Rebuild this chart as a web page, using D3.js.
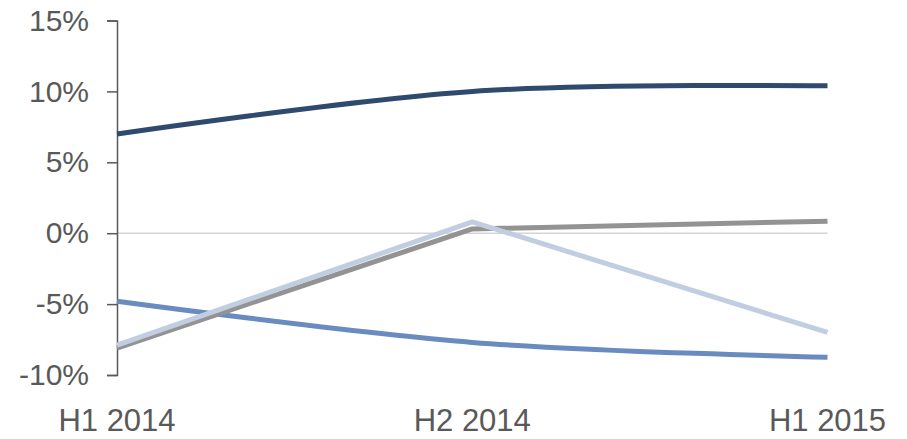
<!DOCTYPE html>
<html><head><meta charset="utf-8">
<script src="https://cdn.jsdelivr.net/npm/d3@7"></script>
<style>body{margin:0;background:#fff}svg{display:block}</style>
</head><body>
<svg id="c" width="907" height="439"></svg>
<script>
const categories = ["H1 2014", "H2 2014", "H1 2015"];
const yTicks = [-10, -5, 0, 5, 10, 15];
const seriesNavy = [7.0, 10.0, 10.4];
const seriesGray = [-8.1, 0.3, 0.85];
const seriesLight = [-7.9, 0.8, -7.0];
const seriesBlue = [-4.8, -7.7, -8.75];

const svg = d3.select("#c");
const x = d3.scalePoint().domain(categories).range([117, 827.5]);
const y = d3.scaleLinear().domain([-10, 15]).range([375, 20.5]);
const font = "'Liberation Sans', Arial, sans-serif";

// zero line
svg.append("line").attr("x1", x(categories[0])).attr("x2", x(categories[2]))
  .attr("y1", y(0)).attr("y2", y(0)).attr("stroke", "#d4d4d4").attr("stroke-width", 1.5);

// y axis
const yAxis = svg.append("g").attr("transform", `translate(${x(categories[0])},0)`)
  .call(d3.axisLeft(y).tickValues(yTicks).tickSize(10).tickPadding(18).tickFormat(d => d + "%"));
yAxis.select(".domain").attr("stroke", "#595959").attr("stroke-width", 1.5);
yAxis.selectAll(".tick line").attr("stroke", "#595959").attr("stroke-width", 1.5);
yAxis.selectAll("text").attr("fill", "#595959").style("font-family", font).style("font-size", "30px");

// x labels
svg.append("g").selectAll("text").data(categories).join("text")
  .attr("x", d => x(d)).attr("y", 431).attr("text-anchor", "middle")
  .attr("fill", "#595959").style("font-family", font).style("font-size", "31px").text(d => d);

const smooth = d3.line().x((d, i) => x(categories[i])).y(d => y(d)).curve(d3.curveCardinal.tension(0));
const straight = d3.line().x((d, i) => x(categories[i])).y(d => y(d));

const series = [
  {v: seriesBlue, c: "#6a8bbf", g: smooth},
  {v: seriesGray, c: "#939393", g: straight},
  {v: seriesLight, c: "#c1cee2", g: straight},
  {v: seriesNavy, c: "#30496e", g: smooth}
];
svg.append("g").selectAll("path").data(series).join("path")
  .attr("d", d => d.g(d.v)).attr("fill", "none").attr("stroke", d => d.c)
  .attr("stroke-width", 5).attr("stroke-linejoin", "round");
</script>
</body></html>
